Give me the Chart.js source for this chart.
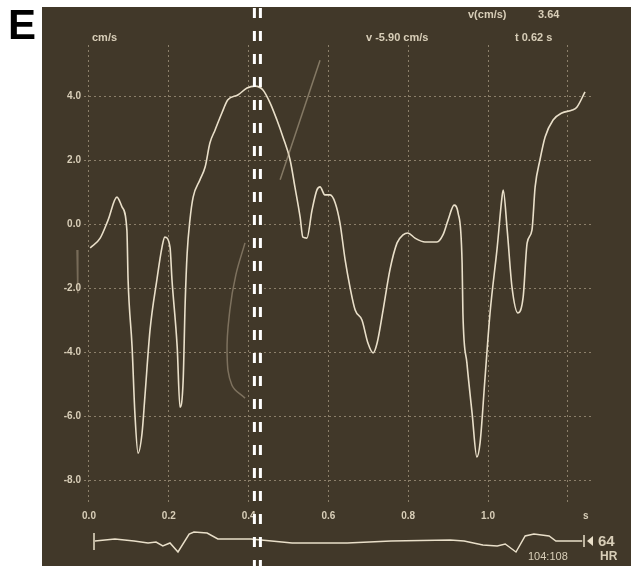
<!DOCTYPE html>
<html>
<head>
<meta charset="utf-8">
<script src="https://cdn.jsdelivr.net/npm/chart.js@4.4.1/dist/chart.umd.min.js"></script>
<style>
  html, body { margin: 0; padding: 0; background: #ffffff; }
  canvas { display: block; }
</style>
</head>
<body>
<canvas id="doppler" width="636" height="569"></canvas>
<script>
// velocity trace (time in s, velocity in cm/s)
const timeS = [0.003,0.028,0.048,0.070,0.083,0.095,0.098,0.108,0.115,0.123,0.133,0.140,0.153,0.170,0.183,0.190,0.203,0.208,0.221,0.228,0.236,0.241,0.246,0.253,0.261,0.278,0.291,0.303,0.316,0.333,0.348,0.373,0.396,0.416,0.436,0.454,0.471,0.486,0.504,0.516,0.529,0.536,0.546,0.559,0.571,0.579,0.591,0.604,0.617,0.629,0.642,0.654,0.667,0.684,0.699,0.712,0.722,0.737,0.754,0.772,0.787,0.799,0.817,0.842,0.872,0.887,0.900,0.915,0.925,0.935,0.937,0.947,0.960,0.972,0.980,0.992,1.005,1.023,1.035,1.038,1.048,1.060,1.075,1.088,1.098,1.110,1.118,1.130,1.143,1.163,1.185,1.211,1.223,1.243];
const velocity = [-0.75,-0.44,0.13,0.84,0.53,-0.19,-1.75,-3.84,-5.91,-7.16,-6.53,-5.41,-3.31,-1.75,-0.72,-0.41,-0.72,-1.75,-3.84,-5.72,-4.88,-2.47,-0.91,0.13,0.84,1.38,1.78,2.53,2.94,3.47,3.88,4.03,4.25,4.31,4.19,3.78,3.25,2.72,2.0,1.16,0.22,-0.41,-0.44,0.44,1.06,1.16,0.91,0.91,0.66,0.03,-1.13,-1.97,-2.69,-3.0,-3.72,-4.03,-3.72,-2.69,-1.44,-0.59,-0.34,-0.28,-0.44,-0.56,-0.56,-0.34,0.13,0.59,0.34,-1.22,-2.78,-4.34,-5.91,-7.28,-6.84,-4.88,-2.78,-0.72,0.84,1.06,-0.19,-1.97,-2.78,-2.28,-0.59,-0.19,1.16,2.0,2.72,3.25,3.47,3.56,3.66,4.13];

// faint ghost streaks on the screen
const streakTime = [0.479, 0.579];
const streakVel = [1.38, 5.12];
const ghostTime = [0.391, 0.368, 0.353, 0.346, 0.358, 0.391];
const ghostVel = [-0.59, -1.59, -2.69, -4.03, -5.03, -5.44];
const edgeTime = [-0.030, -0.028];
const edgeVel = [-0.81, -2.16];

// ECG strip (time in s, relative level)
const ecgTime = [0.015,0.065,0.113,0.148,0.168,0.185,0.203,0.223,0.251,0.263,0.296,0.323,0.406,0.509,0.647,0.757,0.905,0.940,0.987,1.023,1.043,1.070,1.093,1.115,1.153,1.170,1.236];
const ecgLevel = [0,0.5,0,-0.5,-0.25,-1.25,-0.5,-2.75,1.75,2.25,2.0,0.5,0.5,-0.5,-0.5,0,0.25,0,-1,-1.25,-0.75,-2.75,1.25,1.75,1.25,0,0];

const xTickLabels = ['0.0', '0.2', '0.4', '0.6', '0.8', '1.0', ''];
const cursorTime = 0.422;

const panelColor = '#413829';
const traceColor = '#e9dfc9';
const textColor = '#d8ceb8';
const gridColor = 'rgba(200, 186, 160, 0.55)';

function toPoints(xs, ys) {
  return xs.map((x, i) => ({ x: x, y: ys[i] }));
}

// Panel, cursor and screen texts
const screenPlugin = {
  id: 'screen',
  beforeDraw(chart) {
    const ctx = chart.ctx;
    ctx.save();
    ctx.fillStyle = '#ffffff';
    ctx.fillRect(0, 0, chart.width, chart.height);
    ctx.fillStyle = panelColor;
    ctx.fillRect(42, 7, 589, 559);
    ctx.restore();
  },
  afterDraw(chart) {
    const ctx = chart.ctx;
    const xs = chart.scales.x;
    ctx.save();

    // letter
    ctx.fillStyle = '#000000';
    ctx.font = 'bold 42px "Liberation Sans", Arial, sans-serif';
    ctx.textBaseline = 'alphabetic';
    ctx.fillText('E', 8, 39);

    // header texts
    ctx.fillStyle = textColor;
    ctx.font = 'bold 11px "Liberation Sans", Arial, sans-serif';
    ctx.textBaseline = 'middle';
    ctx.fillText('v(cm/s)', 468, 15);
    ctx.fillText('3.64', 538, 15);
    ctx.fillText('cm/s', 92, 38);
    ctx.fillText('v -5.90 cm/s', 366, 38);
    ctx.fillText('t 0.62 s', 515, 38);
    ctx.font = 'bold 10px "Liberation Sans", Arial, sans-serif';
    ctx.fillText('s', 583, 516);

    // ECG markers and labels
    ctx.strokeStyle = traceColor;
    ctx.lineWidth = 1.5;
    ctx.beginPath();
    ctx.moveTo(94, 533); ctx.lineTo(94, 550);
    ctx.moveTo(584, 535); ctx.lineTo(584, 547);
    ctx.stroke();
    ctx.fillStyle = traceColor;
    ctx.beginPath();
    ctx.moveTo(587, 541); ctx.lineTo(593, 536); ctx.lineTo(593, 546);
    ctx.closePath();
    ctx.fill();
    ctx.fillStyle = textColor;
    ctx.font = 'bold 15px "Liberation Sans", Arial, sans-serif';
    ctx.fillText('64', 598, 542);
    ctx.font = 'bold 12px "Liberation Sans", Arial, sans-serif';
    ctx.fillText('HR', 600, 557);
    ctx.font = '11px "Liberation Sans", Arial, sans-serif';
    ctx.fillText('104:108', 528, 557);

    // double dashed cursor
    const cx = xs.getPixelForValue(cursorTime);
    ctx.strokeStyle = '#ffffff';
    ctx.lineWidth = 3;
    ctx.setLineDash([10, 13]);
    ctx.beginPath();
    ctx.moveTo(cx - 3, 8); ctx.lineTo(cx - 3, 569);
    ctx.moveTo(cx + 3, 8); ctx.lineTo(cx + 3, 569);
    ctx.stroke();
    ctx.restore();
  }
};

const chart = new Chart(document.getElementById('doppler'), {
  type: 'line',
  data: {
    datasets: [
      {
        data: toPoints(ghostTime, ghostVel),
        borderColor: 'rgba(200, 185, 160, 0.45)',
        borderWidth: 1.5,
        pointRadius: 0,
        tension: 0.4
      },
      {
        data: toPoints(streakTime, streakVel),
        borderColor: 'rgba(200, 185, 160, 0.5)',
        borderWidth: 1.5,
        pointRadius: 0
      },
      {
        data: toPoints(edgeTime, edgeVel),
        borderColor: 'rgba(200, 185, 160, 0.4)',
        borderWidth: 1.5,
        pointRadius: 0,
        clip: false
      },
      {
        data: toPoints(timeS, velocity),
        borderColor: traceColor,
        borderWidth: 1.6,
        pointRadius: 0,
        cubicInterpolationMode: 'monotone'
      },
      {
        data: toPoints(ecgTime, ecgLevel),
        yAxisID: 'ecg',
        borderColor: traceColor,
        borderWidth: 1.5,
        pointRadius: 0,
        clip: false
      }
    ]
  },
  options: {
    responsive: false,
    animation: false,
    events: [],
    layout: { padding: { left: 60, right: 43, top: 45, bottom: 44 } },
    plugins: {
      legend: { display: false },
      tooltip: { enabled: false }
    },
    scales: {
      x: {
        type: 'linear',
        min: -0.0125,
        max: 1.263,
        afterFit(scale) { scale.height = 20; },
        grid: { color: gridColor, lineWidth: 1, drawTicks: false },
        border: { display: false, dash: [2, 3] },
        ticks: {
          stepSize: 0.2,
          includeBounds: false,
          maxRotation: 0,
          autoSkip: false,
          padding: 5,
          color: textColor,
          font: { family: '"Liberation Sans", Arial, sans-serif', size: 10, weight: 'bold' },
          callback: (v, i) => xTickLabels[i]
        }
      },
      y: {
        type: 'linear',
        min: -8.78,
        max: 5.594,
        afterFit(scale) { scale.width = 24; },
        grid: { color: gridColor, lineWidth: 1, drawTicks: false },
        border: { display: false, dash: [2, 3] },
        ticks: {
          stepSize: 2,
          includeBounds: false,
          padding: 3,
          color: textColor,
          font: { family: '"Liberation Sans", Arial, sans-serif', size: 10, weight: 'bold' },
          callback: v => v.toFixed(1)
        }
      },
      ecg: {
        type: 'linear',
        display: false,
        min: 9,
        max: 124
      }
    }
  },
  plugins: [screenPlugin]
});
</script>
</body>
</html>
